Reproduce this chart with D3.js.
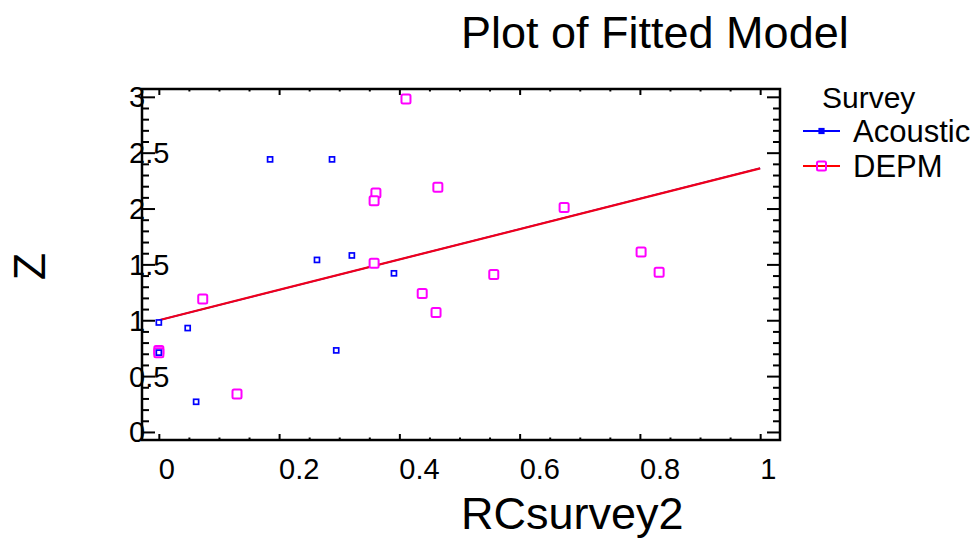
<!DOCTYPE html>
<html>
<head>
<meta charset="utf-8">
<script src="https://cdn.jsdelivr.net/npm/d3@7"></script>
<style>
  body { margin: 0; background: #fff; }
  text { font-family: "Liberation Sans", Arial, sans-serif; fill: #000; }
</style>
</head>
<body>
<div id="chart"></div>
<script>
// Datos
const acousticX = [0, 0.048, 0.062, 0.185, 0.288, 0.263, 0.321, 0.391, 0.295, 0];
const acousticZ = [0.98, 0.93, 0.27, 2.44, 2.44, 1.54, 1.58, 1.42, 0.73, 0.71];

const depmX = [0.411, 0.361, 0.358, 0.464, 0.674, 0.358, 0.557, 0.438, 0.461, 0.802, 0.832, 0.073, 0.13, 0, 0];
const depmZ = [2.98, 2.14, 2.07, 2.19, 2.01, 1.51, 1.41, 1.24, 1.07, 1.61, 1.43, 1.19, 0.34, 0.73, 0.71];

// Recta ajustada (extremos)
const fitX = [0, 1];
const fitZ = [1.0, 2.36];

const xTicks = [0, 0.2, 0.4, 0.6, 0.8, 1];
const xTickLabels = ["0", "0.2", "0.4", "0.6", "0.8", "1"];
const yTicks = [0, 0.5, 1, 1.5, 2, 2.5, 3];
const yTickLabels = ["0", "0.5", "1", "1.5", "2", "2.5", "3"];
const legendNames = ["Acoustic", "DEPM"];

// Constantes
const WIDTH = 979;
const HEIGHT = 543;
const plot = { left: 142, right: 780, top: 89, bottom: 440 };
const cx = (plot.left + plot.right) / 2;
const cy = (plot.top + plot.bottom) / 2;

const svg = d3.select("#chart")
  .append("svg")
  .attr("width", WIDTH)
  .attr("height", HEIGHT);

// Escalas
const x = d3.scaleLinear().domain([-0.028, 1.033]).range([plot.left, plot.right]);
const y = d3.scaleLinear().domain([-0.072, 3.07]).range([plot.bottom, plot.top]);

const xMinor = d3.range(0, 1.001, 0.05).filter(v => Math.abs(v * 5 - Math.round(v * 5)) > 1e-6);
const yMinor = d3.range(0, 3.001, 0.1).filter(v => Math.abs(v * 2 - Math.round(v * 2)) > 1e-6);

// Ejes (marcas hacia dentro en los cuatro lados)
function drawAxis(axisFn, scale, values, size, transform) {
  const g = svg.append("g")
    .attr("transform", transform)
    .call(axisFn(scale).tickValues(values).tickSize(size).tickFormat(""));
  g.select(".domain").remove();
  g.selectAll(".tick line").attr("stroke", "#000").attr("stroke-width", 2);
}

drawAxis(d3.axisBottom, x, xTicks, -6, `translate(0,${plot.bottom})`);
drawAxis(d3.axisBottom, x, xMinor, -2.5, `translate(0,${plot.bottom})`);
drawAxis(d3.axisTop, x, xTicks, -6, `translate(0,${plot.top})`);
drawAxis(d3.axisTop, x, xMinor, -2.5, `translate(0,${plot.top})`);
drawAxis(d3.axisLeft, y, yTicks, -13, `translate(${plot.left},0)`);
drawAxis(d3.axisLeft, y, yMinor, -7, `translate(${plot.left},0)`);
drawAxis(d3.axisRight, y, yTicks, -13, `translate(${plot.right},0)`);
drawAxis(d3.axisRight, y, yMinor, -7, `translate(${plot.right},0)`);

// Marco
svg.append("rect")
  .attr("x", plot.left)
  .attr("y", plot.top)
  .attr("width", plot.right - plot.left)
  .attr("height", plot.bottom - plot.top)
  .attr("fill", "none")
  .attr("stroke", "#000")
  .attr("stroke-width", 2.5);

// Etiquetas de los ejes
svg.append("g")
  .selectAll("text")
  .data(xTicks)
  .join("text")
  .attr("x", d => x(d))
  .attr("y", 479)
  .attr("font-size", 29)
  .text((d, i) => xTickLabels[i]);

svg.append("g")
  .selectAll("text")
  .data(yTicks)
  .join("text")
  .attr("x", 129)
  .attr("y", d => y(d))
  .attr("dy", "0.36em")
  .attr("font-size", 29)
  .text((d, i) => yTickLabels[i]);

// Títulos
svg.append("text")
  .attr("x", cx)
  .attr("y", 48)
  .attr("font-size", 45)
  .text("Plot of Fitted Model");

svg.append("text")
  .attr("x", cx)
  .attr("y", 529)
  .attr("font-size", 45)
  .text("RCsurvey2");

svg.append("text")
  .attr("transform", `translate(45,${cy + 2}) rotate(-90)`)
  .attr("text-anchor", "middle")
  .attr("font-size", 45)
  .text("Z");

// Recta ajustada (Acoustic debajo, DEPM encima)
const line = d3.line().x(d => x(d[0])).y(d => y(d[1]));
const fitData = d3.zip(fitX, fitZ);
svg.append("path").datum(fitData).attr("d", line)
  .attr("fill", "none").attr("stroke", "#0000ff").attr("stroke-width", 1.5);
svg.append("path").datum(fitData).attr("d", line)
  .attr("fill", "none").attr("stroke", "#f0001a").attr("stroke-width", 2.2);

// Puntos DEPM
svg.append("g")
  .selectAll("rect")
  .data(d3.zip(depmX, depmZ))
  .join("rect")
  .attr("x", d => x(d[0]) - 4.5)
  .attr("y", d => y(d[1]) - 4.5)
  .attr("width", 9)
  .attr("height", 9)
  .attr("rx", 1.5)
  .attr("fill", "#fff")
  .attr("stroke", "#ff00ff")
  .attr("stroke-width", 2);

// Puntos Acoustic
svg.append("g")
  .selectAll("rect")
  .data(d3.zip(acousticX, acousticZ))
  .join("rect")
  .attr("x", d => x(d[0]) - 2.5)
  .attr("y", d => y(d[1]) - 2.5)
  .attr("width", 5)
  .attr("height", 5)
  .attr("fill", "#fff")
  .attr("stroke", "#0000ff")
  .attr("stroke-width", 1.7);

// Leyenda
const legend = svg.append("g").attr("transform", "translate(803,0)");
legend.append("text")
  .attr("x", 19)
  .attr("y", 108)
  .attr("font-size", 30)
  .text("Survey");

const legendY = [131, 166];
const legendLine = ["#0000ff", "#ff0000"];

legendNames.forEach((name, i) => {
  legend.append("line")
    .attr("x1", 0).attr("x2", 37)
    .attr("y1", legendY[i]).attr("y2", legendY[i])
    .attr("stroke", legendLine[i]).attr("stroke-width", 2);
  if (i === 0) {
    legend.append("rect")
      .attr("x", 16).attr("y", legendY[i] - 2.5)
      .attr("width", 5).attr("height", 5)
      .attr("fill", "#0000ff").attr("stroke", "#0000ff").attr("stroke-width", 1.2);
  } else {
    legend.append("rect")
      .attr("x", 14).attr("y", legendY[i] - 4.5)
      .attr("width", 9).attr("height", 9).attr("rx", 1.5)
      .attr("fill", "none").attr("stroke", "#ff00ff").attr("stroke-width", 2);
  }
  legend.append("text")
    .attr("x", 50)
    .attr("y", legendY[i] + 11)
    .attr("font-size", 31)
    .text(name);
});
</script>
</body>
</html>
